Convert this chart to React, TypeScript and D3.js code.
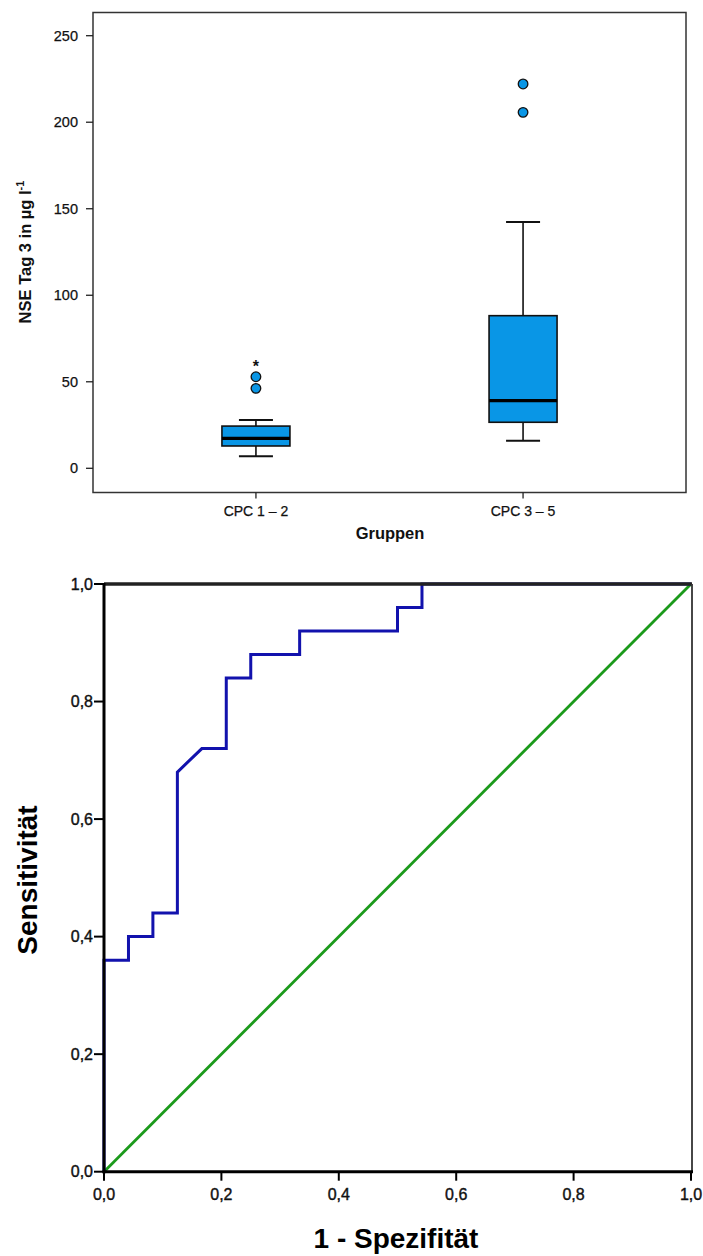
import React from "react";
import * as d3 from "d3";

// ---- Boxplot data (NSE Tag 3 in µg/l) ----
const groups = ["CPC 1 – 2", "CPC 3 – 5"];
const whiskerLow = [6.9, 15.9];
const q1 = [12.9, 26.6];
const median = [17.3, 39.1];
const q3 = [24.4, 88.2];
const whiskerHigh = [27.9, 142.3];
const outlierCircles = [[46.2, 52.9], [205.7, 222.1]];
const outlierExtremes = [[61], []];
const boxTicks = [0, 50, 100, 150, 200, 250];

// ---- ROC data ----
const fpr = [0, 0, 0.0417, 0.0417, 0.0833, 0.0833, 0.125, 0.125, 0.1667, 0.2083, 0.2083, 0.25, 0.25, 0.3333, 0.3333, 0.5, 0.5, 0.5417, 0.5417, 1];
const tpr = [0, 0.36, 0.36, 0.4, 0.4, 0.44, 0.44, 0.68, 0.72, 0.72, 0.84, 0.84, 0.88, 0.88, 0.92, 0.92, 0.96, 0.96, 1, 1];
const refLine = [0, 1];
const rocTicks = [0, 0.2, 0.4, 0.6, 0.8, 1.0];

const FONT = "'Liberation Sans', Arial, Helvetica, sans-serif";
const BOX_FILL = "#0996e6";

export default function App() {
  // Boxplot frame
  const bL = 93, bR = 686, bT = 12.5, bB = 492.5;
  const y = d3.scaleLinear().domain([0, 250]).range([468.3, 35.7]);
  const x = d3.scalePoint<string>().domain(groups).range([bL, bR]).padding(0.61);
  const boxW = 68;
  const capW = 34;

  // ROC frame
  const rx = d3.scaleLinear().domain([0, 1]).range([104, 691]);
  const ry = d3.scaleLinear().domain([0, 1]).range([1171.7, 584]);
  const rocLine = d3.line<number>().x((d, i) => rx(fpr[i])).y((d, i) => ry(tpr[i]));
  const diag = d3.line<number>().x((d) => rx(d)).y((d) => ry(d));
  const fmt = (v: number) => d3.format(".1f")(v).replace(".", ",");

  return (
    <svg width={703} height={1256} style={{ position: "absolute", left: 0, top: 0, background: "#fff" }} fontFamily={FONT}>
      {/* ===== Boxplot ===== */}
      <rect x={bL} y={bT} width={bR - bL} height={bB - bT} fill="none" stroke="#333" strokeWidth={1.5} />
      {boxTicks.map((t) => (
        <g key={"yt" + t}>
          <line x1={bL - 7} x2={bL} y1={y(t)} y2={y(t)} stroke="#222" strokeWidth={1.3} />
          <text x={bL - 15} y={y(t)} dy="0.35em" textAnchor="end" fontSize={14.5} fill="#111" stroke="#111" strokeWidth={0.25}>{t}</text>
        </g>
      ))}
      <text transform={`translate(31,${252}) rotate(-90)`} textAnchor="middle" fontSize={16.5} fontWeight="bold" fill="#111">
        NSE Tag 3 in µg l<tspan dy="-7" fontSize={11}>-1</tspan>
      </text>
      {groups.map((g, i) => {
        const cx = x(g)!;
        return (
          <g key={g}>
            <line x1={cx} x2={cx} y1={bB} y2={bB + 6} stroke="#222" strokeWidth={1.3} />
            <text x={cx} y={516} textAnchor="middle" fontSize={14} fill="#111" stroke="#111" strokeWidth={0.25}>{g}</text>
            {/* whiskers */}
            <line x1={cx} x2={cx} y1={y(whiskerHigh[i])} y2={y(q3[i])} stroke="#111" strokeWidth={1.6} />
            <line x1={cx} x2={cx} y1={y(q1[i])} y2={y(whiskerLow[i])} stroke="#111" strokeWidth={1.6} />
            <line x1={cx - capW / 2} x2={cx + capW / 2} y1={y(whiskerHigh[i])} y2={y(whiskerHigh[i])} stroke="#111" strokeWidth={2} />
            <line x1={cx - capW / 2} x2={cx + capW / 2} y1={y(whiskerLow[i])} y2={y(whiskerLow[i])} stroke="#111" strokeWidth={2} />
            {/* box */}
            <rect x={cx - boxW / 2} y={y(q3[i])} width={boxW} height={y(q1[i]) - y(q3[i])} fill={BOX_FILL} stroke="#111" strokeWidth={1.6} />
            <line x1={cx - boxW / 2} x2={cx + boxW / 2} y1={y(median[i])} y2={y(median[i])} stroke="#000" strokeWidth={3.2} />
            {outlierCircles[i].map((v, j) => (
              <circle key={j} cx={cx} cy={y(v)} r={4.8} fill={BOX_FILL} stroke="#111" strokeWidth={1.3} />
            ))}
            {outlierExtremes[i].map((v, j) => (
              <text key={"e" + j} x={cx} y={y(v) + 9} textAnchor="middle" fontSize={16} fontWeight="bold" fill="#111">*</text>
            ))}
          </g>
        );
      })}
      <text x={390} y={539} textAnchor="middle" fontSize={16.5} fontWeight="bold" fill="#111">Gruppen</text>

      {/* ===== ROC ===== */}
      <path d={diag(refLine) || ""} fill="none" stroke="#1b9a1b" strokeWidth={2.8} />
      <path d={rocLine(fpr) || ""} fill="none" stroke="#1212ad" strokeWidth={3} strokeLinejoin="miter" />
      <line x1={rx(0)} x2={rx(1) + 1} y1={ry(1)} y2={ry(1)} stroke="#222" strokeWidth={3.4} />
      <line x1={rx(1) + 1} x2={rx(1) + 1} y1={ry(1)} y2={ry(0)} stroke="#333" strokeWidth={1.8} />
      <line x1={rx(0)} x2={rx(0)} y1={ry(1) - 1} y2={ry(0) + 1.5} stroke="#000" strokeWidth={3} />
      <line x1={rx(0) - 1.5} x2={rx(1) + 2} y1={ry(0)} y2={ry(0)} stroke="#000" strokeWidth={3} />
      {rocTicks.map((t) => (
        <g key={"ry" + t}>
          <line x1={rx(0) - 10} x2={rx(0)} y1={ry(t)} y2={ry(t)} stroke="#000" strokeWidth={2} />
          <text x={rx(0) - 11} y={ry(t)} dy="0.35em" textAnchor="end" fontSize={16} fill="#111" stroke="#111" strokeWidth={0.4}>{fmt(t)}</text>
        </g>
      ))}
      {rocTicks.map((t) => (
        <g key={"rx" + t}>
          <line x1={rx(t)} x2={rx(t)} y1={ry(0)} y2={ry(0) + 9} stroke="#000" strokeWidth={2} />
          <text x={rx(t)} y={1200} textAnchor="middle" fontSize={16} fill="#111" stroke="#111" strokeWidth={0.4}>{fmt(t)}</text>
        </g>
      ))}
      <text transform={`translate(37,${880}) rotate(-90)`} textAnchor="middle" fontSize={28} fontWeight="bold" fill="#000">Sensitivität</text>
      <text x={396} y={1248} textAnchor="middle" fontSize={28} fontWeight="bold" fill="#000">1 - Spezifität</text>
    </svg>
  );
}
